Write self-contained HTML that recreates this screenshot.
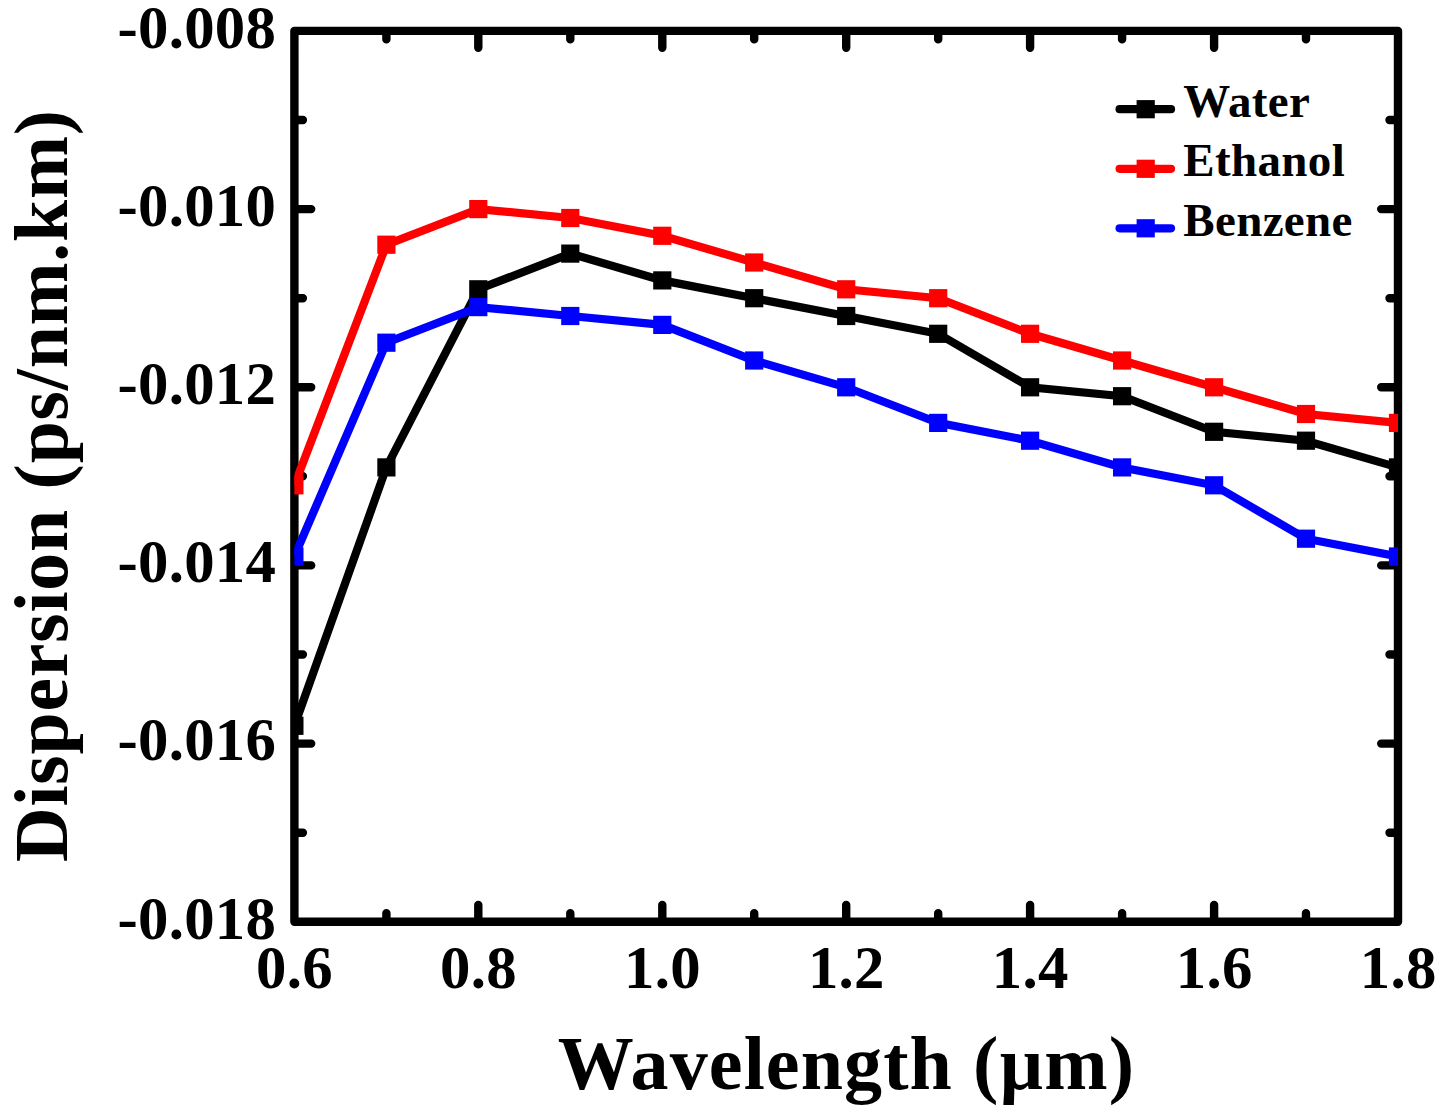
<!DOCTYPE html>
<html><head><meta charset="utf-8"><style>
html,body{margin:0;padding:0;background:#fff;}
body{width:1451px;height:1114px;overflow:hidden;}
svg{display:block;}
text{font-family:"Liberation Serif", serif;}
</style></head><body>
<svg width="1451" height="1114" viewBox="0 0 1451 1114"><defs><clipPath id="c"><rect x="294.4" y="30.9" width="1103.6" height="890.9"/></clipPath></defs><path d="M294.4 30.9H1398.0V921.8H294.4Z M386.4 921.8V913.3 M386.4 30.9V39.4 M478.3 921.8V905.0 M478.3 30.9V47.7 M570.3 921.8V913.3 M570.3 30.9V39.4 M662.3 921.8V905.0 M662.3 30.9V47.7 M754.2 921.8V913.3 M754.2 30.9V39.4 M846.2 921.8V905.0 M846.2 30.9V47.7 M938.2 921.8V913.3 M938.2 30.9V39.4 M1030.1 921.8V905.0 M1030.1 30.9V47.7 M1122.1 921.8V913.3 M1122.1 30.9V39.4 M1214.1 921.8V905.0 M1214.1 30.9V47.7 M1306.0 921.8V913.3 M1306.0 30.9V39.4 M294.4 120.0H302.9 M1398.0 120.0H1389.5 M294.4 209.1H311.2 M1398.0 209.1H1381.2 M294.4 298.2H302.9 M1398.0 298.2H1389.5 M294.4 387.3H311.2 M1398.0 387.3H1381.2 M294.4 476.3H302.9 M1398.0 476.3H1389.5 M294.4 565.4H311.2 M1398.0 565.4H1381.2 M294.4 654.5H302.9 M1398.0 654.5H1389.5 M294.4 743.6H311.2 M1398.0 743.6H1381.2 M294.4 832.7H302.9 M1398.0 832.7H1389.5" fill="none" stroke="#000" stroke-width="8.4" stroke-linecap="round" stroke-linejoin="round"/><g clip-path="url(#c)"><polyline points="294.4,725.8 386.4,467.4 478.3,289.3 570.3,253.6 662.3,280.4 754.2,298.2 846.2,316.0 938.2,333.8 1030.1,387.3 1122.1,396.2 1214.1,431.8 1306.0,440.7 1398.0,467.4" fill="none" stroke="#000" stroke-width="8.2" stroke-linejoin="miter"/><g fill="#000"><rect x="285.3" y="716.7" width="18.2" height="18.2"/><rect x="377.3" y="458.3" width="18.2" height="18.2"/><rect x="469.2" y="280.2" width="18.2" height="18.2"/><rect x="561.2" y="244.5" width="18.2" height="18.2"/><rect x="653.2" y="271.3" width="18.2" height="18.2"/><rect x="745.1" y="289.1" width="18.2" height="18.2"/><rect x="837.1" y="306.9" width="18.2" height="18.2"/><rect x="929.1" y="324.7" width="18.2" height="18.2"/><rect x="1021.0" y="378.2" width="18.2" height="18.2"/><rect x="1113.0" y="387.1" width="18.2" height="18.2"/><rect x="1205.0" y="422.7" width="18.2" height="18.2"/><rect x="1296.9" y="431.6" width="18.2" height="18.2"/><rect x="1388.9" y="458.3" width="18.2" height="18.2"/></g></g><g clip-path="url(#c)"><polyline points="294.4,485.3 386.4,244.7 478.3,209.1 570.3,218.0 662.3,235.8 754.2,262.5 846.2,289.3 938.2,298.2 1030.1,333.8 1122.1,360.5 1214.1,387.3 1306.0,414.0 1398.0,422.9" fill="none" stroke="#f00" stroke-width="8.2" stroke-linejoin="miter"/><g fill="#f00"><rect x="285.3" y="476.2" width="18.2" height="18.2"/><rect x="377.3" y="235.6" width="18.2" height="18.2"/><rect x="469.2" y="200.0" width="18.2" height="18.2"/><rect x="561.2" y="208.9" width="18.2" height="18.2"/><rect x="653.2" y="226.7" width="18.2" height="18.2"/><rect x="745.1" y="253.4" width="18.2" height="18.2"/><rect x="837.1" y="280.2" width="18.2" height="18.2"/><rect x="929.1" y="289.1" width="18.2" height="18.2"/><rect x="1021.0" y="324.7" width="18.2" height="18.2"/><rect x="1113.0" y="351.4" width="18.2" height="18.2"/><rect x="1205.0" y="378.2" width="18.2" height="18.2"/><rect x="1296.9" y="404.9" width="18.2" height="18.2"/><rect x="1388.9" y="413.8" width="18.2" height="18.2"/></g></g><g clip-path="url(#c)"><polyline points="294.4,556.5 386.4,342.7 478.3,307.1 570.3,316.0 662.3,324.9 754.2,360.5 846.2,387.3 938.2,422.9 1030.1,440.7 1122.1,467.4 1214.1,485.3 1306.0,538.7 1398.0,556.5" fill="none" stroke="#00f" stroke-width="8.2" stroke-linejoin="miter"/><g fill="#00f"><rect x="285.3" y="547.4" width="18.2" height="18.2"/><rect x="377.3" y="333.6" width="18.2" height="18.2"/><rect x="469.2" y="298.0" width="18.2" height="18.2"/><rect x="561.2" y="306.9" width="18.2" height="18.2"/><rect x="653.2" y="315.8" width="18.2" height="18.2"/><rect x="745.1" y="351.4" width="18.2" height="18.2"/><rect x="837.1" y="378.2" width="18.2" height="18.2"/><rect x="929.1" y="413.8" width="18.2" height="18.2"/><rect x="1021.0" y="431.6" width="18.2" height="18.2"/><rect x="1113.0" y="458.3" width="18.2" height="18.2"/><rect x="1205.0" y="476.2" width="18.2" height="18.2"/><rect x="1296.9" y="529.6" width="18.2" height="18.2"/><rect x="1388.9" y="547.4" width="18.2" height="18.2"/></g></g><g font-family="Liberation Serif" font-weight="bold" font-size="60.8" letter-spacing="0.3" fill="#000"><text x="117.4" y="47.7">-0.008</text><text x="117.4" y="225.9">-0.010</text><text x="117.4" y="404.1">-0.012</text><text x="117.4" y="582.2">-0.014</text><text x="117.4" y="760.4">-0.016</text><text x="117.4" y="938.6">-0.018</text><text x="256.1" y="988.1">0.6</text><text x="440.0" y="988.1">0.8</text><text x="624.0" y="988.1">1.0</text><text x="807.9" y="988.1">1.2</text><text x="991.8" y="988.1">1.4</text><text x="1175.8" y="988.1">1.6</text><text x="1359.7" y="988.1">1.8</text></g><text x="557.7" y="1089.4" font-family="Liberation Serif" font-weight="bold" font-size="76" letter-spacing="1.1">Wavelength (µm)</text><text transform="translate(66.55 862.05) rotate(-90)" font-family="Liberation Serif" font-weight="bold" font-size="75.6" letter-spacing="0.85">Dispersion (ps/nm.km)</text><path d="M1119.6 109.2H1171" stroke="#000" stroke-width="8.2" stroke-linecap="round"/><rect x="1136.6" y="100.1" width="18.2" height="18.2" fill="#000"/><text x="1183.25" y="116.8" font-family="Liberation Serif" font-weight="bold" font-size="47" letter-spacing="0.35">Water</text><path d="M1119.6 168.8H1171" stroke="#f00" stroke-width="8.2" stroke-linecap="round"/><rect x="1136.6" y="159.7" width="18.2" height="18.2" fill="#f00"/><text x="1183.25" y="176.3" font-family="Liberation Serif" font-weight="bold" font-size="47" letter-spacing="0.35">Ethanol</text><path d="M1119.6 228.3H1171" stroke="#00f" stroke-width="8.2" stroke-linecap="round"/><rect x="1136.6" y="219.2" width="18.2" height="18.2" fill="#00f"/><text x="1183.25" y="235.9" font-family="Liberation Serif" font-weight="bold" font-size="47" letter-spacing="0.35">Benzene</text></svg>
</body></html>
